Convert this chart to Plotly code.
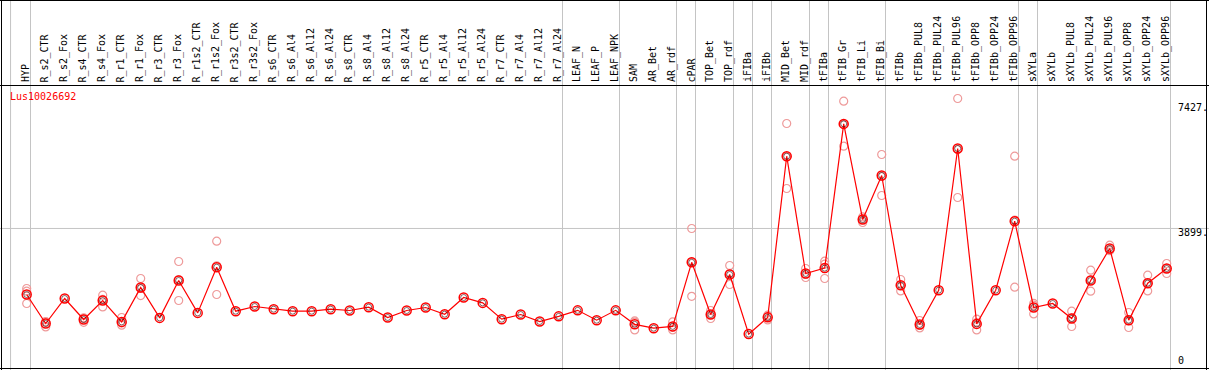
import plotly.graph_objects as go

W, H = 1209, 370

columns = ["HYP", "R_s2_CTR", "R_s2_Fox", "R_s4_CTR", "R_s4_Fox", "R_r1_CTR", "R_r1_Fox",
           "R_r3_CTR", "R_r3_Fox", "R_r1s2_CTR", "R_r1s2_Fox", "R_r3s2_CTR", "R_r3s2_Fox",
           "R_s6_CTR", "R_s6_Al4", "R_s6_Al12", "R_s6_Al24", "R_s8_CTR", "R_s8_Al4",
           "R_s8_Al12", "R_s8_Al24", "R_r5_CTR", "R_r5_Al4", "R_r5_Al12", "R_r5_Al24",
           "R_r7_CTR", "R_r7_Al4", "R_r7_Al12", "R_r7_Al24", "LEAF_N", "LEAF_P", "LEAF_NPK",
           "SAM", "AR_Bet", "AR_rdf", "cPAR", "TOP_Bet", "TOP_rdf", "iFIBa", "iFIBb",
           "MID_Bet", "MID_rdf", "tFIBa", "tFIB_Gr", "tFIB_Li", "tFIB_Bi", "tFIBb",
           "tFIBb_PUL8", "tFIBb_PUL24", "tFIBb_PUL96", "tFIBb_OPP8", "tFIBb_OPP24",
           "tFIBb_OPP96", "sXYLa", "sXYLb", "sXYLb_PUL8", "sXYLb_PUL24", "sXYLb_PUL96",
           "sXYLb_OPP8", "sXYLb_OPP24", "sXYLb_OPP96"]

mean_values = [2035, 1216, 1922, 1329, 1865, 1262, 2232, 1375, 2430, 1516, 2806, 1564, 1696,
               1620, 1564, 1564, 1620, 1583, 1677, 1386, 1583, 1668, 1479, 1950, 1798,
               1338, 1470, 1273, 1418, 1588, 1310, 1588, 1193, 1084, 1135, 2943, 1470,
               2600, 918, 1390, 5938, 2628, 2780, 6850, 4150, 5394, 2297, 1188, 2156,
               6156, 1205, 2156, 4104, 1668, 1781, 1357, 2430, 3333, 1310, 2354, 2769]

N = None
rep1 = [2204, 1270, N, 1360, 2015, 1386, 2486, N, 2966, N, 3539, N, N,
        N, N, N, N, N, N, N, N, N, N, N, N,
        N, N, N, N, N, N, N, 1290, N, 1262, 3898, 1583,
        2853, N, 1451, 6861, 2769, 2975, 7491, 4225, 5986, 2458, 1301, N,
        7567, 1338, N, 5938, 1733, N, 1564, 2721, 3426, 1527, 2580, 2910]
rep2 = [2128, 1120, N, 1250, 1685, 1168, 2006, N, 1865, N, 2035, N, N,
        N, N, N, N, N, N, N, N, N, N, N, N,
        N, N, N, N, N, N, N, 1036, N, 1036, 1983, 1357,
        2317, N, 1318, 5027, 2515, 2890, 6221, 4067, 4829, 2137, 1093, N,
        4773, 1036, N, 2241, 1487, N, 1132, 2128, 3300, 1104, 2137, 2628]
rep3 = [1781, 1258, N, 1377, 1895, 1232, 2204, N, 2459, N, 2844, N, N,
        N, N, N, N, N, N, N, N, N, N, N, N,
        N, N, N, N, N, N, N, 1253, N, 1107, 2948, 1470,
        2630, N, 1401, 5926, 2600, 2487, 6838, 4158, 5367, 2296, 1170, N,
        6128, 1241, N, 4133, 1784, N, 1375, 2441, 3273, 1299, 2345, 2769]

gene_name = "Lus10026692"
tick_values = [0, 3899, 7427]
tick_labels = ["0", "3899.", "7427."]
group_ends = ["HYP", "R_r7_Al24", "LEAF_NPK", "AR_rdf", "cPAR", "TOP_rdf", "iFIBa", "iFIBb",
              "MID_rdf", "tFIBa", "tFIB_Bi", "tFIBb_OPP96", "sXYLa", "sXYLb_OPP96"]

# pixel geometry of the original chart
X0_PX, DX_PX = 26.7, 19.0            # x pixel of column 0, spacing
Y_ZERO_PX, Y_SCALE = 366.6, 0.03543  # y pixel of value 0, px per unit

xr0 = -X0_PX / DX_PX
xr1 = xr0 + W / DX_PX
yr0 = -(H - Y_ZERO_PX) / Y_SCALE
yr1 = yr0 + H / Y_SCALE

def px_x(p):
    return p / W

def px_y(p):
    return 1 - p / H

idx = list(range(len(columns)))
fig = go.Figure()

rep_x, rep_y = [], []
for reps in (rep1, rep2, rep3):
    for i, v in zip(idx, reps):
        if v is not None:
            rep_x.append(i)
            rep_y.append(v)

fig.add_trace(go.Scatter(x=rep_x, y=rep_y, mode="markers",
                         marker=dict(symbol="circle-open", size=8, color="#ee9a9a",
                                     line=dict(width=1.2)),
                         hoverinfo="skip"))
fig.add_trace(go.Scatter(x=idx, y=mean_values, mode="lines+markers",
                         line=dict(color="#ff0000", width=1.2),
                         marker=dict(symbol="circle-open", size=9, color="#ff0000",
                                     line=dict(width=1.5)),
                         hoverinfo="skip"))
fig.add_trace(go.Scatter(x=idx, y=mean_values, mode="markers",
                         marker=dict(symbol="circle-open", size=6, color="#300000",
                                     line=dict(width=0.6)),
                         hoverinfo="skip"))

shapes = []
gray = "#c4c4c4"
# vertical group separators (full height)
sep_x = [-0.85] + [columns.index(c) + 0.2 for c in group_ends]
for sx in sep_x:
    shapes.append(dict(type="line", xref="x", yref="paper", x0=sx, x1=sx, y0=0, y1=1,
                       line=dict(color=gray, width=1), layer="below"))
# horizontal grid at middle tick
shapes.append(dict(type="line", xref="paper", yref="y", x0=0, x1=1, y0=tick_values[1],
                   y1=tick_values[1], line=dict(color=gray, width=1), layer="below"))
# frame
black = "#000000"
for (x0, y0, x1, y1) in [(0, 0.5, W, 0.5), (0, 85.5, W, 85.5), (0, 368.5, W, 368.5),
                         (1.5, 0, 1.5, H), (1206.5, 0, 1206.5, H)]:
    shapes.append(dict(type="line", xref="paper", yref="paper", x0=px_x(x0), x1=px_x(x1),
                       y0=px_y(y0), y1=px_y(y1), line=dict(color=black, width=1)))

annotations = []
font = dict(family="DejaVu Sans Mono", size=10, color="black")
for i, c in zip(idx, columns):
    annotations.append(dict(x=i - 0.06, y=px_y(84.5), xref="x", yref="paper", text=c,
                            textangle=-90, showarrow=False, xanchor="center",
                            yanchor="bottom", font=font, borderpad=1))
annotations.append(dict(x=px_x(9), y=px_y(90), xref="paper", yref="paper", text=gene_name,
                        showarrow=False, xanchor="left", yanchor="top",
                        font=dict(family="DejaVu Sans Mono", size=10, color="#ff0000"),
                        borderpad=0))
for v, t in zip(tick_values, tick_labels):
    annotations.append(dict(x=px_x(1177), y=v, xref="paper", yref="y", text=t,
                            showarrow=False, xanchor="left",
                            yanchor="top" if v > 0 else "bottom",
                            yshift=2 if v > 0 else 0,
                            font=font, borderpad=0))

fig.update_layout(width=W, height=H, margin=dict(l=0, r=0, t=0, b=0),
                  paper_bgcolor="white", plot_bgcolor="white", showlegend=False,
                  xaxis=dict(visible=False, range=[xr0, xr1], fixedrange=True),
                  yaxis=dict(visible=False, range=[yr0, yr1], fixedrange=True),
                  shapes=shapes, annotations=annotations)

fig.write_html("out.html", config={"displayModeBar": False},
               post_script="document.body.style.margin='0';document.body.style.overflow='hidden';")
